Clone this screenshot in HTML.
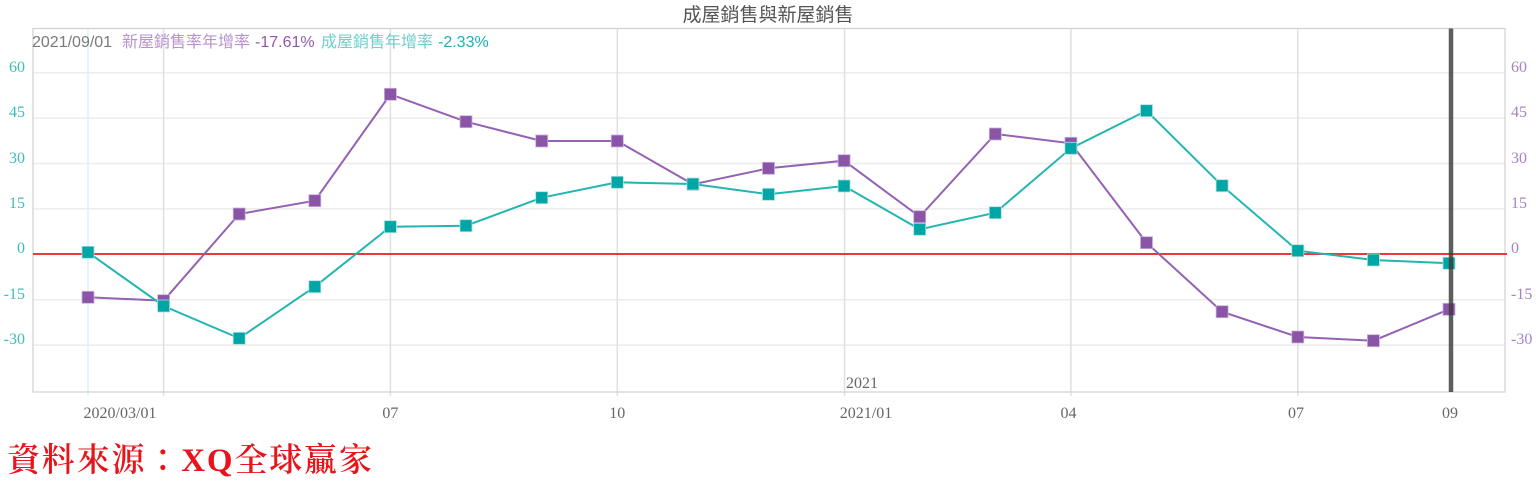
<!DOCTYPE html>
<html>
<head>
<meta charset="utf-8">
<style>
html,body{margin:0;padding:0;background:#fff;}
svg{display:block;}
</style>
</head>
<body>
<svg width="1536" height="493" viewBox="0 0 1536 493" xmlns="http://www.w3.org/2000/svg">
  <rect x="0" y="0" width="1536" height="493" fill="#fff"/>
  <!-- title -->
  <text x="768" y="21" text-anchor="middle" font-family="'Liberation Sans','Noto Sans CJK TC',sans-serif" font-size="19" fill="#555">成屋銷售與新屋銷售</text>

  <!-- horizontal gridlines -->
  <g stroke="#ececec" stroke-width="1.5">
    <line x1="33" y1="72.7" x2="1505" y2="72.7"/>
    <line x1="33" y1="118.1" x2="1505" y2="118.1"/>
    <line x1="33" y1="163.5" x2="1505" y2="163.5"/>
    <line x1="33" y1="208.9" x2="1505" y2="208.9"/>
    <line x1="33" y1="299.7" x2="1505" y2="299.7"/>
    <line x1="33" y1="345.1" x2="1505" y2="345.1"/>
  </g>
  <!-- vertical gridlines -->
  <line x1="88" y1="28.5" x2="88" y2="396" stroke="#dcf0fa" stroke-width="1.5"/>
  <g stroke="#e0e0e0" stroke-width="1.5">
    <line x1="163.6" y1="28.5" x2="163.6" y2="396"/>
    <line x1="390.4" y1="28.5" x2="390.4" y2="396"/>
    <line x1="617.3" y1="28.5" x2="617.3" y2="396"/>
    <line x1="844.6" y1="28.5" x2="844.6" y2="396"/>
    <line x1="1070.9" y1="28.5" x2="1070.9" y2="396"/>
    <line x1="1297.8" y1="28.5" x2="1297.8" y2="396"/>
  </g>
  <!-- plot border -->
  <rect x="33" y="28.5" width="1472" height="363.5" fill="none" stroke="#d0d0d0" stroke-width="1.2"/>

  <!-- zero line -->
  <line x1="33" y1="254" x2="1507" y2="254" stroke="#f0353c" stroke-width="2"/>

  <!-- legend -->
  <g font-family="'Liberation Sans','Noto Sans CJK TC',sans-serif" font-size="16">
    <text x="32" y="47" fill="#7a7a7a">2021/09/01</text>
    <text x="122" y="47" fill="#b892cf">新屋銷售率年增率</text>
    <text x="255" y="47" fill="#9158ad">-17.61%</text>
    <text x="321" y="47" fill="#6fcfcb">成屋銷售年增率</text>
    <text x="438" y="47" fill="#19b2ae">-2.33%</text>
  </g>

  <!-- left axis labels -->
  <g font-family="'Liberation Serif',serif" font-size="16" fill="#3ebcbc" text-anchor="end">
    <text x="25" y="72">60</text>
    <text x="25" y="117">45</text>
    <text x="25" y="163">30</text>
    <text x="25" y="208">15</text>
    <text x="25" y="253">0</text>
    <text x="25" y="299">-15</text>
    <text x="25" y="344">-30</text>
  </g>
  <!-- right axis labels -->
  <g font-family="'Liberation Serif',serif" font-size="16" fill="#a782c5">
    <text x="1511" y="72">60</text>
    <text x="1511" y="117">45</text>
    <text x="1511" y="163">30</text>
    <text x="1511" y="208">15</text>
    <text x="1511" y="253">0</text>
    <text x="1511" y="299">-15</text>
    <text x="1511" y="344">-30</text>
  </g>

  <!-- x labels -->
  <g font-family="'Liberation Serif',serif" font-size="16" fill="#666" text-anchor="middle">
    <text x="120" y="418">2020/03/01</text>
    <text x="390.4" y="418">07</text>
    <text x="617.3" y="418">10</text>
    <text x="866" y="418">2021/01</text>
    <text x="1068.5" y="418">04</text>
    <text x="1296" y="418">07</text>
    <text x="1450" y="418">09</text>
  </g>
  <text x="846" y="388" font-family="'Liberation Serif',serif" font-size="16" fill="#666">2021</text>

  <!-- purple line -->
  <polyline fill="none" stroke="#9461b3" stroke-width="2"
    points="88,297.3 163.6,300.7 239.2,214 314.8,200.7 390.4,94.3 466,121.7 541.7,141 617.3,141 692.9,184.3 768.5,168.3 844.1,160.7 919.7,216.7 995.3,134 1070.9,143.3 1146.5,242.7 1222.1,311.7 1297.8,337 1373.4,340.7 1449,309.3"/>
  <!-- teal line -->
  <polyline fill="none" stroke="#23b5b1" stroke-width="2"
    points="88,252.3 163.6,306 239.2,338.3 314.8,286.7 390.4,226.7 466,225.7 541.7,197.7 617.3,182.3 692.9,184 768.5,194.3 844.1,186 919.7,229.3 995.3,212.7 1070.9,148.3 1146.5,110.7 1222.1,185.7 1297.8,250.7 1373.4,260 1449,263.3"/>

  <!-- purple markers -->
  <g fill="#8a55a6" stroke="#c9b0da" stroke-width="0.8">
    <rect x="82" y="291.3" width="12" height="12"/>
    <rect x="157.6" y="294.7" width="12" height="12"/>
    <rect x="233.2" y="208" width="12" height="12"/>
    <rect x="308.8" y="194.7" width="12" height="12"/>
    <rect x="384.4" y="88.3" width="12" height="12"/>
    <rect x="460" y="115.7" width="12" height="12"/>
    <rect x="535.7" y="135" width="12" height="12"/>
    <rect x="611.3" y="135" width="12" height="12"/>
    <rect x="686.9" y="178.3" width="12" height="12"/>
    <rect x="762.5" y="162.3" width="12" height="12"/>
    <rect x="838.1" y="154.7" width="12" height="12"/>
    <rect x="913.7" y="210.7" width="12" height="12"/>
    <rect x="989.3" y="128" width="12" height="12"/>
    <rect x="1064.9" y="137.3" width="12" height="12"/>
    <rect x="1140.5" y="236.7" width="12" height="12"/>
    <rect x="1216.1" y="305.7" width="12" height="12"/>
    <rect x="1291.8" y="331" width="12" height="12"/>
    <rect x="1367.4" y="334.7" width="12" height="12"/>
    <rect x="1443" y="303.3" width="12" height="12"/>
  </g>
  <!-- teal markers -->
  <g fill="#00a6a6" stroke="#a8e0df" stroke-width="0.8">
    <rect x="82" y="246.3" width="12" height="12"/>
    <rect x="157.6" y="300" width="12" height="12"/>
    <rect x="233.2" y="332.3" width="12" height="12"/>
    <rect x="308.8" y="280.7" width="12" height="12"/>
    <rect x="384.4" y="220.7" width="12" height="12"/>
    <rect x="460" y="219.7" width="12" height="12"/>
    <rect x="535.7" y="191.7" width="12" height="12"/>
    <rect x="611.3" y="176.3" width="12" height="12"/>
    <rect x="686.9" y="178" width="12" height="12"/>
    <rect x="762.5" y="188.3" width="12" height="12"/>
    <rect x="838.1" y="180" width="12" height="12"/>
    <rect x="913.7" y="223.3" width="12" height="12"/>
    <rect x="989.3" y="206.7" width="12" height="12"/>
    <rect x="1064.9" y="142.3" width="12" height="12"/>
    <rect x="1140.5" y="104.7" width="12" height="12"/>
    <rect x="1216.1" y="179.7" width="12" height="12"/>
    <rect x="1291.8" y="244.7" width="12" height="12"/>
    <rect x="1367.4" y="254" width="12" height="12"/>
    <rect x="1443" y="257.3" width="12" height="12"/>
  </g>

  <!-- cursor line -->
  <line x1="1451" y1="28.5" x2="1451" y2="392" stroke="#3a3a3a" stroke-opacity="0.82" stroke-width="4.5"/>

  <!-- source -->
  <text x="7" y="471" font-family="'Liberation Serif','Noto Serif CJK TC','Noto Serif CJK SC',serif" font-size="33" font-weight="600" fill="#e8141c" textLength="365" lengthAdjust="spacing">資料來源：XQ全球贏家</text>
</svg>
</body>
</html>
